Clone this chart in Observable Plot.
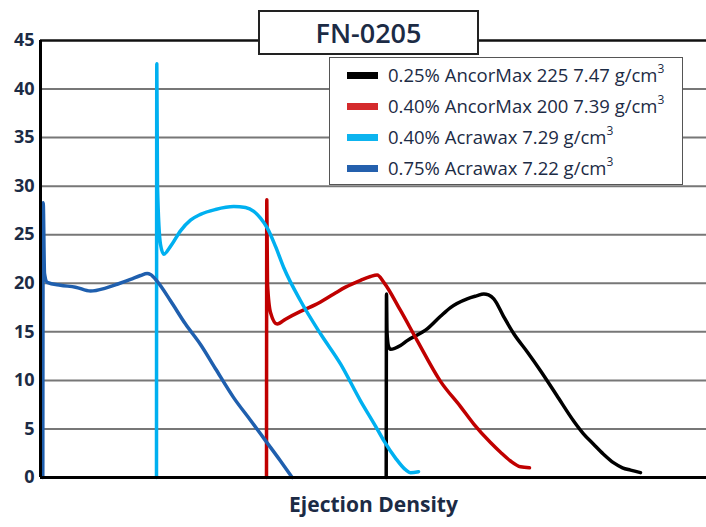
<!DOCTYPE html>
<html>
<head>
<meta charset="utf-8">
<script src="https://cdn.jsdelivr.net/npm/d3@7"></script>
<script src="https://cdn.jsdelivr.net/npm/@observablehq/plot@0.6"></script>
<style>
  body { margin: 0; background: #fff; font-family: "Open Sans", Roboto, sans-serif; }
  #wrap { position: relative; width: 706px; height: 527px; }
  #title { position: absolute; left: 258px; top: 10px; width: 217px; height: 41px;
    border: 2.5px solid #222; background: #fff; color: #1c2b45; font-size: 27px; font-weight: 600;
    display: flex; align-items: center; justify-content: center; }
  #legend { position: absolute; left: 329px; top: 57px; width: 352px; height: 126px;
    border: 1.5px solid #555; background: #fff; }
  .row { position: absolute; left: 0; height: 30px; display: flex; align-items: center;
    color: #1c2b45; font-size: 18.5px; font-weight: 500; white-space: nowrap; }
  .sw { width: 31px; height: 7px; margin-left: 17px; margin-right: 10px; }
  .row sup { font-size: 12px; position: relative; top: -2px; }
</style>
</head>
<body>
<div id="wrap"></div>
<script>
// Series names and colours
const seriesNames = [
  "0.25% AncorMax 225 7.47 g/cm",
  "0.40% AncorMax 200 7.39 g/cm",
  "0.40% Acrawax 7.29 g/cm",
  "0.75% Acrawax 7.22 g/cm"
];
const seriesColors = ["#000000", "#c00000", "#00b0f0", "#1f5fae"];
const legendColors = ["#000000", "#d42a2c", "#0db4ef", "#2460ad"];

// Ejection position (arbitrary units) and load values
const blackX = [385.7, 386, 386.5, 388, 390, 400, 406.7, 426.7, 440, 450, 466.7, 476, 483.3, 488, 493.3, 503, 513.3, 527, 540, 556, 573.3, 583, 593.3, 603, 613.3, 622, 630, 640];
const blackY = [0, 18.9, 15, 13.5, 13.2, 13.6, 14.1, 15.3, 16.6, 17.5, 18.4, 18.7, 18.9, 18.8, 18.4, 16.6, 14.8, 12.9, 11.0, 8.5, 5.8, 4.5, 3.4, 2.4, 1.5, 1.0, 0.76, 0.5];

const redX = [266, 266.3, 267, 270, 276.7, 285, 300, 315, 333.3, 345, 360, 370, 376.7, 383.3, 400, 416.7, 440, 460, 473.3, 490, 500, 510, 520, 529];
const redY = [0, 28.6, 20, 17, 15.8, 16.3, 17.1, 17.8, 18.9, 19.6, 20.3, 20.7, 20.85, 20.1, 17.2, 14.1, 9.9, 7.3, 5.5, 3.6, 2.6, 1.7, 1.1, 1.0];

const lightX = [156, 156.3, 157, 160, 163.3, 170, 180, 190, 200, 215, 233.3, 245, 253.3, 260, 266.7, 275, 283.3, 300, 320, 340, 360, 375, 383.3, 395, 405, 410, 418];
const lightY = [0, 42.6, 30, 24, 23.0, 23.8, 25.4, 26.5, 27.1, 27.6, 27.9, 27.8, 27.4, 26.7, 25.7, 23.8, 21.6, 18.2, 14.8, 11.7, 7.9, 5.3, 3.8, 2.0, 0.8, 0.5, 0.6];

const darkX = [42.3, 42.7, 44, 46.7, 60, 75, 90, 105, 116.7, 130, 140, 146.7, 150, 156.7, 170, 185, 200, 215, 233.3, 250, 265, 280, 291.7];
const darkY = [0, 28.3, 21, 20.1, 19.8, 19.6, 19.2, 19.5, 19.9, 20.4, 20.8, 21.0, 20.9, 20.2, 18.2, 15.8, 13.7, 11.2, 8.2, 5.9, 3.8, 1.7, 0];

const yTicks = [0, 5, 10, 15, 20, 25, 30, 35, 40, 45];
const gridTicks = [5, 10, 15, 20, 25, 30, 35, 40];
const xLabel = "Ejection Density";
const titleText = "FN-0205";

const toRows = (xs, ys, s) => xs.map((x, i) => ({x, y: ys[i], s}));
const allX = [blackX, redX, lightX, darkX];
const allY = [blackY, redY, lightY, darkY];
const rows = allX.map((xs, i) => toRows(xs, allY[i], i));

const ink = "#1c2b45";

const chart = Plot.plot({
  width: 706,
  height: 527,
  marginLeft: 40,
  marginRight: 0,
  marginTop: 40,
  marginBottom: 50,
  style: {fontFamily: "'Open Sans', Roboto, sans-serif", background: "#fff"},
  x: {domain: [40, 706], axis: null},
  y: {domain: [0, 45], axis: null},
  marks: [
    Plot.ruleY(gridTicks, {stroke: "#777", strokeWidth: 2}),
    Plot.ruleY([45], {stroke: "#111", strokeWidth: 2.5}),
    ...rows.map((r, i) => Plot.line(r, {x: "x", y: "y", stroke: seriesColors[i], strokeWidth: 3.5, curve: "monotone-x", strokeLinejoin: "round", strokeLinecap: "round"})),
    Plot.ruleY([0], {stroke: "#000", strokeWidth: 3}),
    Plot.ruleX([40], {stroke: "#000", strokeWidth: 3}),
    Plot.axisY(yTicks, {tickSize: 0, tickPadding: 6, fontSize: 18, fontWeight: 700, color: ink, label: null}),
    Plot.text([xLabel], {frameAnchor: "bottom", dy: 34, text: d => d, fontSize: 21, fontWeight: 700, fill: ink})
  ]
});

const wrap = document.getElementById("wrap");
wrap.appendChild(chart);

const title = document.createElement("div");
title.id = "title";
title.textContent = titleText;
wrap.appendChild(title);

const legend = document.createElement("div");
legend.id = "legend";
seriesNames.forEach((name, i) => {
  const row = document.createElement("div");
  row.className = "row";
  row.style.top = (2 + i * 31) + "px";
  const sw = document.createElement("div");
  sw.className = "sw";
  sw.style.background = legendColors[i];
  row.appendChild(sw);
  const t = document.createElement("span");
  t.innerHTML = name + "<sup>3</sup>";
  row.appendChild(t);
  legend.appendChild(row);
});
wrap.appendChild(legend);
</script>
</body>
</html>
